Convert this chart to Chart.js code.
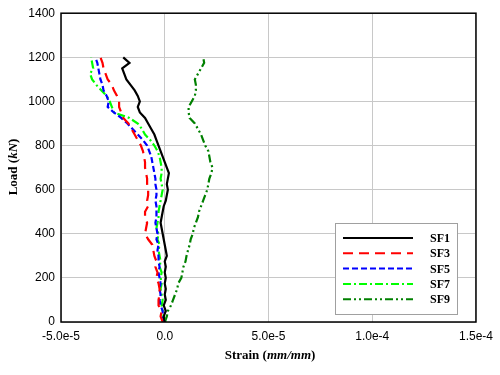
<!DOCTYPE html>
<html>
<head>
<meta charset="utf-8">
<script src="https://cdn.jsdelivr.net/npm/chart.js@4.4.1/dist/chart.umd.min.js"></script>
<style>
  html, body { margin: 0; padding: 0; background: #fff; }
  #wrap { width: 500px; height: 375px; }
</style>
</head>
<body>
<div id="wrap"><canvas id="grafica" width="500" height="375"></canvas></div>
<script>
// load steps (kN)
const loads = [0,25,50,75,100,125,150,175,200,225,250,275,300,325,350,375,400,425,450,475,500,
  525,550,575,600,625,650,675,700,725,750,775,800,825,850,875,900,925,950,975,1000,
  1025,1050,1075,1100,1125,1150,1175,1200];

// strains, in units of 1e-5 mm/mm
const sf1 = [0.0,-0.05,0.05,-0.05,0.05,0.0,0.05,0.0,0.05,0.0,0.05,0.0,0.1,0.05,0.0,-0.05,-0.1,
  -0.15,-0.2,-0.15,-0.1,-0.05,0.05,0.1,0.15,0.1,0.15,0.2,0.1,0.0,-0.1,-0.2,-0.3,-0.4,-0.5,
  -0.65,-0.8,-0.95,-1.2,-1.3,-1.2,-1.3,-1.45,-1.65,-1.85,-1.95,-2.05,-1.7,-2.0];
const sf3 = [-0.1,-0.2,-0.15,-0.3,-0.3,-0.25,-0.25,-0.3,-0.4,-0.35,-0.45,-0.4,-0.5,-0.55,-0.6,
  -0.8,-0.95,-0.9,-0.85,-0.95,-0.95,-0.8,-0.85,-0.8,-0.8,-0.85,-0.85,-0.9,-0.95,-0.95,-1.0,
  -1.05,-1.15,-1.3,-1.45,-1.6,-1.75,-2.0,-2.1,-2.2,-2.2,-2.3,-2.45,-2.55,-2.75,-2.85,-2.95,-3.0,-3.1];
const sf5 = [0.0,-0.1,-0.1,-0.2,-0.25,-0.2,-0.25,-0.2,-0.25,-0.3,-0.25,-0.3,-0.3,-0.35,-0.3,
  -0.4,-0.35,-0.4,-0.45,-0.4,-0.4,-0.4,-0.45,-0.4,-0.4,-0.45,-0.45,-0.5,-0.55,-0.6,-0.65,
  -0.75,-0.85,-1.05,-1.3,-1.55,-1.8,-2.1,-2.45,-2.75,-2.7,-2.8,-2.95,-3.0,-3.1,-3.15,-3.2,-3.25,-3.35];
const sf7 = [0.05,-0.05,-0.1,-0.15,-0.1,-0.15,-0.2,-0.15,-0.2,-0.15,-0.25,-0.2,-0.25,-0.3,-0.25,
  -0.35,-0.3,-0.4,-0.35,-0.3,-0.3,-0.25,-0.2,-0.15,-0.1,-0.15,-0.2,-0.15,-0.15,-0.2,-0.25,
  -0.35,-0.5,-0.7,-0.95,-1.1,-1.3,-1.7,-2.45,-2.55,-2.65,-2.8,-3.05,-3.3,-3.5,-3.6,-3.45,-3.5,-3.55];
const sf9 = [0.0,0.1,0.15,0.3,0.4,0.5,0.6,0.65,0.8,0.85,0.9,1.0,1.05,1.12,1.2,1.25,1.35,1.4,
  1.5,1.6,1.65,1.75,1.85,1.95,2.05,2.1,2.15,2.25,2.3,2.2,2.15,2.1,1.95,1.85,1.75,1.6,1.45,
  1.2,1.15,1.15,1.3,1.45,1.5,1.5,1.45,1.6,1.75,1.9,1.85];

const xTicks = [-5, 0, 5, 10, 15];
const xTickLabels = ['-5.0e-5', '0.0', '5.0e-5', '1.0e-4', '1.5e-4'];

function pts(s) {
  return s.map(function(v, i){ return {x: v, y: loads[i]}; });
}

const series = [
  {label: 'SF1', data: sf1, color: '#000000', dash: []},
  {label: 'SF3', data: sf3, color: '#ff0000', dash: [10, 6]},
  {label: 'SF5', data: sf5, color: '#0000ff', dash: [6, 3]},
  {label: 'SF7', data: sf7, color: '#00ff00', dash: [8, 3, 2, 3]},
  {label: 'SF9', data: sf9, color: '#008000', dash: [8, 3, 2, 3, 2, 3]}
];

const extras = {
  id: 'extras',
  afterDraw: function(chart) {
    var ctx = chart.ctx;
    var a = chart.chartArea;
    ctx.save();
    // frame
    ctx.strokeStyle = '#000';
    ctx.lineWidth = 1.5;
    ctx.strokeRect(a.left, a.top, a.right - a.left, a.bottom - a.top);

    // axis titles
    ctx.fillStyle = '#000';
    ctx.textBaseline = 'middle';
    var f1 = 'bold 13px "Liberation Serif"';
    var f2 = 'italic bold 13px "Liberation Serif"';
    var parts = [['Strain (', f1], ['mm/mm', f2], [')', f1]];
    var w = 0;
    parts.forEach(function(p){ ctx.font = p[1]; w += ctx.measureText(p[0]).width; });
    var x = 270 - w / 2;
    ctx.textAlign = 'left';
    parts.forEach(function(p){ ctx.font = p[1]; ctx.fillText(p[0], x, 356); x += ctx.measureText(p[0]).width; });

    ctx.save();
    ctx.translate(14, 167);
    ctx.rotate(-Math.PI / 2);
    parts = [['Load (', f1], ['kN', f2], [')', f1]];
    w = 0;
    parts.forEach(function(p){ ctx.font = p[1]; w += ctx.measureText(p[0]).width; });
    x = -w / 2;
    parts.forEach(function(p){ ctx.font = p[1]; ctx.fillText(p[0], x, 0); x += ctx.measureText(p[0]).width; });
    ctx.restore();

    // legend box
    ctx.fillStyle = '#fff';
    ctx.fillRect(335, 223, 123, 92);
    ctx.strokeStyle = '#a0a0a0';
    ctx.lineWidth = 1;
    ctx.strokeRect(335.5, 223.5, 122, 91);
    chart.data.datasets.forEach(function(ds, i){
      var y = 238 + i * 15.3;
      ctx.strokeStyle = ds.borderColor;
      ctx.lineWidth = 2;
      ctx.setLineDash(ds.borderDash);
      ctx.beginPath();
      ctx.moveTo(343, y);
      ctx.lineTo(413, y);
      ctx.stroke();
      ctx.setLineDash([]);
      ctx.fillStyle = '#000';
      ctx.font = 'bold 12px "Liberation Serif"';
      ctx.textAlign = 'left';
      ctx.fillText(ds.label, 430, y + 1);
    });
    ctx.restore();
  }
};

var graph = document.getElementById('grafica');
var chart = new Chart(graph, {
  type: 'scatter',
  data: {
    datasets: series.map(function(s){
      return {
        label: s.label,
        data: pts(s.data),
        showLine: true,
        borderColor: s.color,
        backgroundColor: s.color,
        borderWidth: 2.2,
        borderDash: s.dash,
        pointRadius: 0,
        tension: 0
      };
    })
  },
  options: {
    responsive: false,
    animation: false,
    layout: {padding: {top: 12, right: 21, left: 0, bottom: 0}},
    plugins: {legend: {display: false}, tooltip: {enabled: false}},
    scales: {
      x: {
        type: 'linear',
        min: -5, max: 15,
        afterFit: function(s){ s.height = 53; },
        afterBuildTicks: function(s){ s.ticks = xTicks.map(function(v){ return {value: v}; }); },
        grid: {color: '#c8c8c8', lineWidth: 1, drawTicks: false},
        border: {display: false},
        ticks: {
          padding: 7,
          color: '#000',
          font: {family: '"Liberation Sans"', size: 12},
          maxRotation: 0,
          callback: function(v){ return xTickLabels[xTicks.indexOf(v)]; }
        }
      },
      y: {
        min: 0, max: 1400,
        afterFit: function(s){ s.width = 61; },
        grid: {color: '#c8c8c8', lineWidth: 1, drawTicks: false},
        border: {display: false},
        ticks: {
          stepSize: 200,
          padding: 6,
          color: '#000',
          font: {family: '"Liberation Sans"', size: 12},
          callback: function(v){ return String(v); }
        }
      }
    }
  },
  plugins: [extras]
});
</script>
</body>
</html>
